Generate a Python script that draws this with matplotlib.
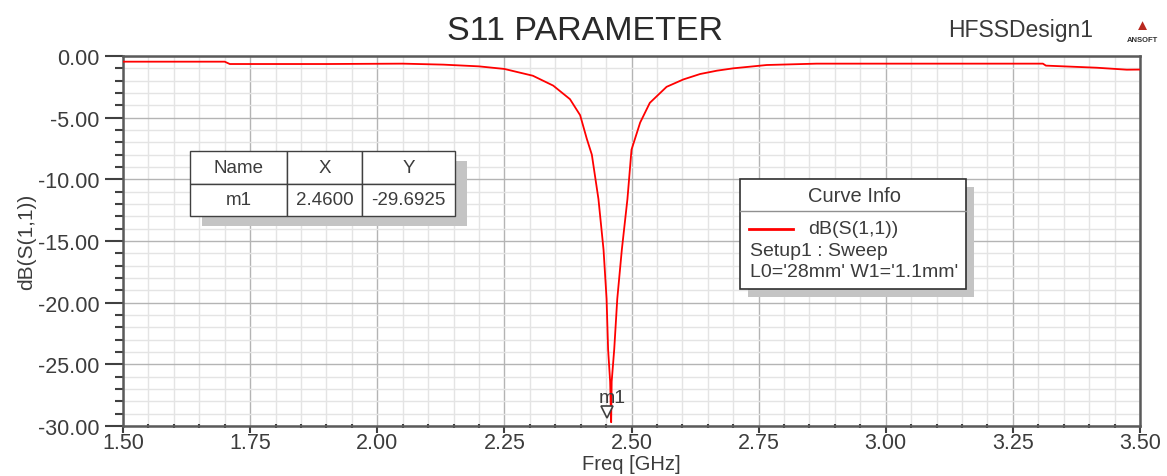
import numpy as np
import matplotlib
matplotlib.use("Agg")
import matplotlib.pyplot as plt
import matplotlib.patches as mpatches
import matplotlib.transforms as mtransforms
from matplotlib.lines import Line2D
from matplotlib.ticker import MultipleLocator, FormatStrFormatter

plt.rcParams["font.family"] = ["Liberation Sans", "DejaVu Sans"]

# ── data ──────────────────────────────────────────────────────────────────────
freq_ghz = [1.50, 1.70, 1.71, 1.90, 2.05, 2.13, 2.20, 2.25, 2.306, 2.346,
            2.379, 2.399, 2.412, 2.422, 2.435, 2.445, 2.451, 2.454, 2.458,
            2.460, 2.461, 2.466, 2.472, 2.481, 2.492, 2.500, 2.517, 2.536,
            2.569, 2.602, 2.635, 2.668, 2.700, 2.766, 2.864, 3.10, 3.309,
            3.315, 3.415, 3.474, 3.50]
s11_db = [-0.46, -0.46, -0.65, -0.65, -0.62, -0.70, -0.84, -1.05, -1.6, -2.4,
          -3.5, -4.8, -6.7, -8.0, -11.6, -15.7, -19.7, -23.8, -26.4,
          -29.6925, -26.4, -23.8, -19.7, -15.7, -11.6, -7.6, -5.4, -3.8,
          -2.5, -1.9, -1.46, -1.19, -1.0, -0.73, -0.62, -0.62, -0.62,
          -0.78, -0.95, -1.11, -1.10]

marker_name = "m1"
marker_x = 2.46
marker_y = -29.6925

table_cols = ["Name", "X", "Y"]
curve_label = "dB(S(1,1))"
curve_info = ["Setup1 : Sweep", "L0='28mm' W1='1.1mm'"]

W, H = 1167, 477
fig = plt.figure(figsize=(W / 100, H / 100), dpi=100)
ax = fig.add_axes([123 / W, 1 - 427 / H, 1017 / W, 370 / H])

ax.plot(freq_ghz, s11_db, color="#ff0000", lw=1.3, zorder=3)

ax.set_xlim(1.5, 3.5)
ax.set_ylim(-30, 0)
ax.xaxis.set_major_locator(MultipleLocator(0.25))
ax.xaxis.set_minor_locator(MultipleLocator(0.05))
ax.yaxis.set_major_locator(MultipleLocator(5))
ax.yaxis.set_minor_locator(MultipleLocator(1))
ax.xaxis.set_major_formatter(FormatStrFormatter("%.2f"))
ax.yaxis.set_major_formatter(FormatStrFormatter("%.2f"))

ax.grid(which="major", color="#b4b4b4", lw=1.0, zorder=0)
ax.grid(which="minor", color="#e4e4e4", lw=1.0, zorder=0)
ax.set_axisbelow(True)

txt = "#3c3c3c"
for s in ax.spines.values():
    s.set_color("#5a5a5a")
    s.set_linewidth(1.8)
ax.tick_params(axis="y", which="major", length=13, width=1.5, colors="#404040",
               labelsize=15.5, labelcolor=txt, pad=4)
ax.tick_params(axis="y", which="minor", length=6, width=1.5, colors="#404040")
ax.tick_params(axis="x", which="major", length=5, width=1.5, colors="#404040",
               labelsize=15.5, labelcolor=txt, pad=-1)
ax.tick_params(axis="x", which="minor", length=2.5, width=1.5, colors="#404040",
               direction="inout")

ax.set_xlabel("Freq [GHz]", fontsize=14.5, color=txt, labelpad=1)
ax.set_ylabel("dB(S(1,1))", fontsize=15, color=txt, labelpad=1)

# title and header
fig.text(585 / W, 1 - 31 / H, "S11 PARAMETER", fontsize=24.5, color="#2a2a2a",
         ha="center", va="center")
fig.text(1021 / W, 1 - 31 / H, "HFSSDesign1", fontsize=16.5, color="#3a3a3a",
         ha="center", va="center")
fig.text(1142 / W, 1 - 26 / H, "\u25B2", fontsize=11, color="#b8281f",
         ha="center", va="center")
fig.text(1142 / W, 1 - 41 / H, "ANSOFT", fontsize=5.5, color="#303030",
         ha="center", va="center", fontweight="bold")

# marker m1
off = mtransforms.offset_copy(ax.transData, fig=fig, x=-4, y=10, units="dots")
ax.plot([marker_x], [marker_y], marker="v", ms=8, mfc="white",
        mec="#404040", mew=1.2, transform=off, zorder=4, clip_on=False)
ax.annotate(marker_name, xy=(marker_x, marker_y), xytext=(1, 12),
            textcoords="offset points", fontsize=14, color=txt,
            ha="center", va="bottom", zorder=5)


def axc(px, py):
    return ((px - 123) / 1017, (427 - py) / 370)


# marker table
x0, y0 = axc(190, 217)
x1, y1 = axc(455, 152)
sx, sy = 12 / 1017, 10 / 370
ax.add_patch(mpatches.Rectangle((x0 + sx, y0 - sy), x1 - x0, y1 - y0,
                                transform=ax.transAxes, color="#c4c4c4",
                                zorder=5, lw=0))
tbl = ax.table(cellText=[[marker_name, f"{marker_x:.4f}", f"{marker_y:.4f}"]],
               colLabels=table_cols, colWidths=[97, 75, 93],
               cellLoc="center", bbox=[x0, y0, x1 - x0, y1 - y0], zorder=6)
tbl.auto_set_font_size(False)
for (r, c), cell in tbl.get_celld().items():
    cell.set_facecolor("white")
    cell.set_edgecolor("#404040")
    cell.set_linewidth(1.0)
    cell.get_text().set_fontsize(13.5)
    cell.get_text().set_color(txt)
    cell.set_zorder(6)

# curve info box
bx0, by0 = axc(740, 290)
bx1, by1 = axc(966, 180)
ax.add_patch(mpatches.Rectangle((bx0 + 8 / 1017, by0 - 8 / 370), bx1 - bx0,
                                by1 - by0, transform=ax.transAxes,
                                color="#c4c4c4", zorder=5, lw=0))
ax.add_patch(mpatches.Rectangle((bx0, by0), bx1 - bx0, by1 - by0,
                                transform=ax.transAxes, facecolor="white",
                                edgecolor="#303030", lw=1.2, zorder=6))
sx0, sy0 = axc(740, 212)
ax.add_line(Line2D([bx0, bx1], [sy0, sy0], transform=ax.transAxes,
                   color="#909090", lw=1.0, zorder=7))
tx, ty = axc(854, 197)
ax.text(tx, ty, "Curve Info", transform=ax.transAxes, fontsize=14.5,
        color=txt, ha="center", va="center", zorder=7)
lx0, ly = axc(749, 230)
lx1, _ = axc(793, 230)
ax.add_line(Line2D([lx0, lx1], [ly, ly], transform=ax.transAxes,
                   color="#ff0000", lw=2, zorder=7))
tx, _ = axc(808, 230)
ax.text(tx, ly, curve_label, transform=ax.transAxes, fontsize=14,
        color=txt, ha="left", va="center", zorder=7)
for i, line in enumerate(curve_info):
    tx, ty = axc(750, 252 + 21 * i)
    ax.text(tx, ty, line, transform=ax.transAxes, fontsize=14,
            color=txt, ha="left", va="center", zorder=7)

fig.savefig("out.png", dpi=100)
